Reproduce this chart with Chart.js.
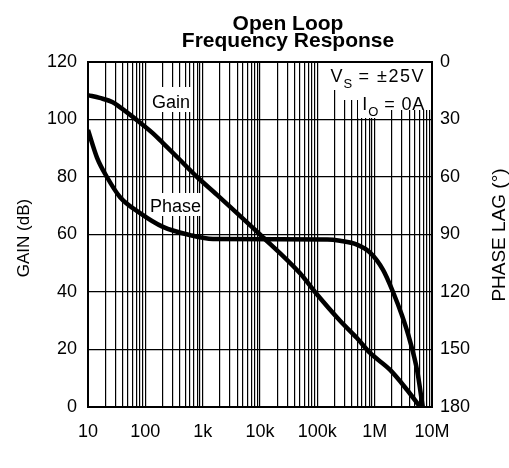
<!DOCTYPE html>
<html>
<head>
<meta charset="utf-8">
<script src="https://cdn.jsdelivr.net/npm/chart.js@4.4.1/dist/chart.umd.min.js"></script>
<style>
  body { margin: 0; background: #fff; }
</style>
</head>
<body>
<canvas id="olChart" width="509" height="468"></canvas>
<script>
// Gain curve (Hz, dB)
const gainFreq = [10, 16, 27, 36, 66, 136, 203, 400, 603, 800, 1780, 10000, 50000, 91000, 249000, 490000, 832000, 1860000, 3660000, 6200000];
const gainDb = [108.5, 107.5, 106, 104.3, 100.3, 95.2, 91.8, 86, 82.4, 80, 73.8, 60, 46.5, 40, 30, 24, 18.8, 12.9, 6, 0];

// Phase lag curve (Hz, degrees)
const phaseFreq = [10, 14.4, 21.4, 36, 81, 203, 603, 1510, 150000, 249000, 490000, 832000, 1400000, 2090000, 3000000, 4140000, 5500000, 6900000];
const phaseLag = [35.5, 50, 60, 70.4, 78.8, 86, 90.3, 92.3, 92.6, 93.3, 95.3, 99.5, 108.5, 120, 132.3, 145.6, 160.9, 180];

// Axis ticks
const decades = [10, 100, 1000, 10000, 100000, 1000000, 10000000];
const decadeLabels = ['10', '100', '1k', '10k', '100k', '1M', '10M'];
const gainTicks = [0, 20, 40, 60, 80, 100, 120];
const phaseTicks = [0, 30, 60, 90, 120, 150, 180];

const FONT = '"Liberation Sans", Arial, sans-serif';

// every 1..9 multiple inside each decade, for the log grid
const freqTicks = [];
decades.forEach((d, i) => {
    if (i === decades.length - 1) { freqTicks.push(d); return; }
    for (let m = 1; m <= 9; m++) freqTicks.push(d * m);
});

// white boxes behind the in-plot labels, plus the labels themselves
const plotLabels = {
    id: 'plotLabels',
    beforeDatasetsDraw(chart) {
        const ctx = chart.ctx;
        ctx.save();
        ctx.fillStyle = '#fff';
        ctx.fillRect(149, 87, 43, 25);    // Gain
        ctx.fillRect(148, 193, 54, 23);   // Phase
        ctx.fillRect(330, 63, 101, 27);   // V_S
        ctx.fillRect(340, 90, 91, 10);
        ctx.fillRect(358, 100, 22, 18);   // I_O
        ctx.fillRect(380, 100, 51, 10);

        ctx.fillStyle = '#000';
        ctx.font = '18px ' + FONT;
        ctx.textBaseline = 'alphabetic';
        ctx.textAlign = 'left';
        ctx.fillText('Gain', 152, 108);
        ctx.fillText('Phase', 150, 212);

        drawSub(ctx, 425, 82, 'V', 'S', ' = ±25V', 1.5);
        drawSub(ctx, 425, 110, 'I', 'O', ' = 0A', 0.8);
        ctx.restore();
    },
    afterDraw(chart) {
        const ctx = chart.ctx;
        const a = chart.chartArea;
        ctx.save();
        ctx.strokeStyle = '#000';
        ctx.lineWidth = 2;
        ctx.strokeRect(a.left, a.top, a.right - a.left, a.bottom - a.top);

        ctx.fillStyle = '#000';
        ctx.textAlign = 'center';
        ctx.font = 'bold 21px ' + FONT;
        ctx.fillText('Open Loop', 288, 30);
        ctx.fillText('Frequency Response', 288, 47);

        // x title sits mostly below the bottom edge, as in the source
        ctx.font = '18px ' + FONT;
        ctx.fillText('FREQUENCY (Hz)', 262, 480.5);

        ctx.textBaseline = 'middle';
        ctx.font = '17px ' + FONT;
        ctx.translate(24, 238);
        ctx.rotate(-Math.PI / 2);
        ctx.fillText('GAIN (dB)', 0, 0);
        ctx.restore();

        ctx.save();
        ctx.fillStyle = '#000';
        ctx.textAlign = 'center';
        ctx.textBaseline = 'middle';
        ctx.font = '19px ' + FONT;
        ctx.translate(500, 235);
        ctx.rotate(-Math.PI / 2);
        ctx.fillText('PHASE LAG (°)', 0, 0);
        ctx.restore();
    }
};

// text with a subscript, right aligned on `right`
function drawSub(ctx, right, base, main, sub, rest, spacing) {
    ctx.textAlign = 'left';
    ctx.letterSpacing = spacing + 'px';
    ctx.font = '18px ' + FONT;
    const wRest = ctx.measureText(rest).width;
    ctx.letterSpacing = '0px';
    const wMain = ctx.measureText(main).width;
    ctx.font = '13px ' + FONT;
    const wSub = ctx.measureText(sub).width;
    let x = right - wRest - wSub - wMain - 1;
    ctx.font = '18px ' + FONT;
    ctx.fillText(main, x, base);
    x += wMain + 1;
    ctx.font = '13px ' + FONT;
    ctx.fillText(sub, x, base + 6);
    x += wSub;
    ctx.font = '18px ' + FONT;
    ctx.letterSpacing = spacing + 'px';
    ctx.fillText(rest, x, base);
    ctx.letterSpacing = '0px';
}

Chart.defaults.color = '#000';
Chart.defaults.font.family = FONT;
Chart.defaults.font.size = 18;

const ctx = document.getElementById('olChart').getContext('2d');
const chart = new Chart(ctx, {
    type: 'line',
    data: {
        datasets: [{
            label: 'Gain',
            data: gainFreq.map((f, i) => ({ x: f, y: gainDb[i] })),
            yAxisID: 'y',
            borderColor: '#000',
            borderWidth: 4.5,
            pointRadius: 0,
            cubicInterpolationMode: 'monotone'
        }, {
            label: 'Phase',
            data: phaseFreq.map((f, i) => ({ x: f, y: phaseLag[i] })),
            yAxisID: 'y1',
            borderColor: '#000',
            borderWidth: 4.5,
            pointRadius: 0,
            cubicInterpolationMode: 'monotone'
        }]
    },
    options: {
        responsive: false,
        animation: false,
        layout: { padding: { top: 62, left: 0, right: 0, bottom: 0 } },
        plugins: {
            legend: { display: false },
            tooltip: { enabled: false }
        },
        scales: {
            x: {
                type: 'logarithmic',
                min: 10,
                max: 10000000,
                afterBuildTicks: function (scale) {
                    scale.ticks = freqTicks.map(v => ({ value: v }));
                },
                afterFit: function (scale) { scale.height = 61; },
                grid: { color: '#000', lineWidth: 1.2, drawTicks: false },
                border: { color: '#000', width: 2 },
                ticks: {
                    autoSkip: false,
                    maxRotation: 0,
                    padding: 14,
                    callback: function (value) {
                        const i = decades.indexOf(value);
                        return i >= 0 ? decadeLabels[i] : '';
                    }
                }
            },
            y: {
                position: 'left',
                min: 0,
                max: 120,
                afterBuildTicks: function (scale) {
                    scale.ticks = gainTicks.map(v => ({ value: v }));
                },
                afterFit: function (scale) { scale.width = 88; },
                grid: { color: '#000', lineWidth: 1.2, drawTicks: false },
                border: { color: '#000', width: 2 },
                ticks: { padding: 11 }
            },
            y1: {
                position: 'right',
                reverse: true,
                min: 0,
                max: 180,
                afterBuildTicks: function (scale) {
                    scale.ticks = phaseTicks.map(v => ({ value: v }));
                },
                afterFit: function (scale) { scale.width = 77; },
                grid: { drawOnChartArea: false, drawTicks: false },
                border: { color: '#000', width: 2 },
                ticks: { padding: 8 }
            }
        }
    },
    plugins: [plotLabels]
});
</script>
</body>
</html>
